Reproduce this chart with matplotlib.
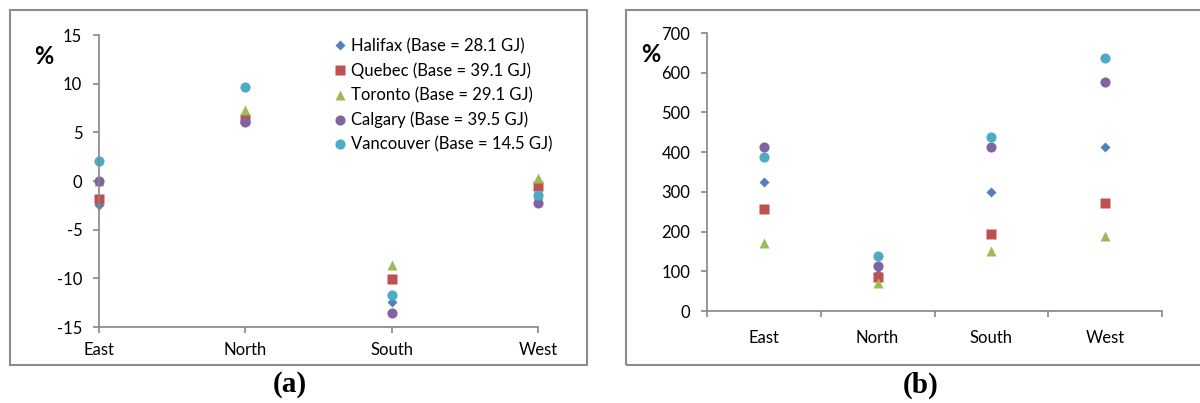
import matplotlib
matplotlib.use('Agg')
import matplotlib.pyplot as plt
from matplotlib.patches import Rectangle

plt.rcParams['font.family'] = ['Lato', 'DejaVu Sans']
plt.rcParams['axes.unicode_minus'] = False

regions = ['East', 'North', 'South', 'West']
cities = ['Halifax', 'Quebec', 'Toronto', 'Calgary', 'Vancouver']
base_gj = ['28.1', '39.1', '29.1', '39.5', '14.5']

# panel (a): % change
pct_a = {
    'Halifax':   [-2.5, 6.3, -12.4, -1.7],
    'Quebec':    [-1.8, 6.4, -10.1, -0.5],
    'Toronto':   [0.0, 7.3, -8.6, 0.3],
    'Calgary':   [0.0, 6.1, -13.6, -2.3],
    'Vancouver': [2.1, 9.7, -11.7, -1.4],
}
# panel (b): % change
pct_b = {
    'Halifax':   [325, 92, 300, 413],
    'Quebec':    [257, 86, 193, 272],
    'Toronto':   [172, 71, 151, 189],
    'Calgary':   [413, 113, 412, 576],
    'Vancouver': [388, 138, 437, 638],
}

colors = ['#4F81BD', '#C0504D', '#9BBB59', '#8064A2', '#4BACC6']
markers = ['D', 's', '^', 'o', 'o']
msizes = [5.5, 6.8, 7.5, 7.3, 7.3]
axis_col = '#868686'
fs = 12

fig = plt.figure(figsize=(12, 4.03), dpi=100)

# outer frames
fig.patches.append(Rectangle((10/1200, 1-365/403), 577/1200, 355/403, transform=fig.transFigure,
                             fill=False, edgecolor='#8c8c8c', lw=1.5))
fig.patches.append(Rectangle((626/1200, 1-365/403), 600/1200, 355/403, transform=fig.transFigure,
                             fill=False, edgecolor='#8c8c8c', lw=1.5))

def style(ax):
    for s in ['top', 'right']:
        ax.spines[s].set_visible(False)
    for s in ['left', 'bottom']:
        ax.spines[s].set_color(axis_col)
        ax.spines[s].set_linewidth(1.2)
    ax.tick_params(colors=axis_col, labelcolor='black', labelsize=fs, length=4, width=1.2)

# panel (a)
ax1 = fig.add_axes([99/1200, 1-327/403, 439/1200, 292/403])
x = list(range(len(regions)))
for i, c in enumerate(cities):
    ax1.plot(x, pct_a[c], ls='none', marker=markers[i], ms=msizes[i], color=colors[i],
             mec='none', label=f'{c} (Base = {base_gj[i]} GJ)', clip_on=False)
ax1.set_xlim(0, 3)
ax1.set_ylim(-15, 15)
ax1.set_yticks(range(-15, 16, 5))
ax1.set_xticks(x)
ax1.set_xticklabels(regions)
style(ax1)
ax1.tick_params(axis='y', pad=8)
ax1.tick_params(axis='x', pad=7)
ax1.legend(loc='upper left', bbox_to_anchor=(333/1200, 1-38/403), bbox_transform=fig.transFigure,
           frameon=False, borderpad=0, handlelength=0.8, handletextpad=0.3, labelspacing=0.5,
           fontsize=fs, borderaxespad=0)
fig.text(44/1200, 1-57/403, '%', fontsize=17, fontweight='bold', ha='center', va='center')
fig.text(290/1200, 1-385/403, '(a)', fontsize=21, fontweight='bold', ha='center', va='center',
         family='Liberation Serif')

# panel (b)
ax2 = fig.add_axes([707/1200, 1-311/403, 455/1200, 278/403])
for i, c in enumerate(cities):
    ax2.plot(x, pct_b[c], ls='none', marker=markers[i], ms=msizes[i], color=colors[i],
             mec='none', clip_on=False)
ax2.set_xlim(-0.5, 3.5)
ax2.set_ylim(0, 700)
ax2.set_yticks(range(0, 701, 100))
ax2.set_xticks([-0.5, 0.5, 1.5, 2.5, 3.5])
ax2.set_xticklabels([])
ax2.set_xticks(x, minor=True)
ax2.set_xticklabels(regions, minor=True)
style(ax2)
ax2.tick_params(axis='x', which='minor', length=0, pad=14, labelsize=fs)
ax2.tick_params(axis='y', pad=8)
fig.text(651/1200, 1-55/403, '%', fontsize=17, fontweight='bold', ha='center', va='center')
fig.text(921/1200, 1-385/403, '(b)', fontsize=21, fontweight='bold', ha='center', va='center',
         family='Liberation Serif')

fig.savefig('out.png', dpi=100)
